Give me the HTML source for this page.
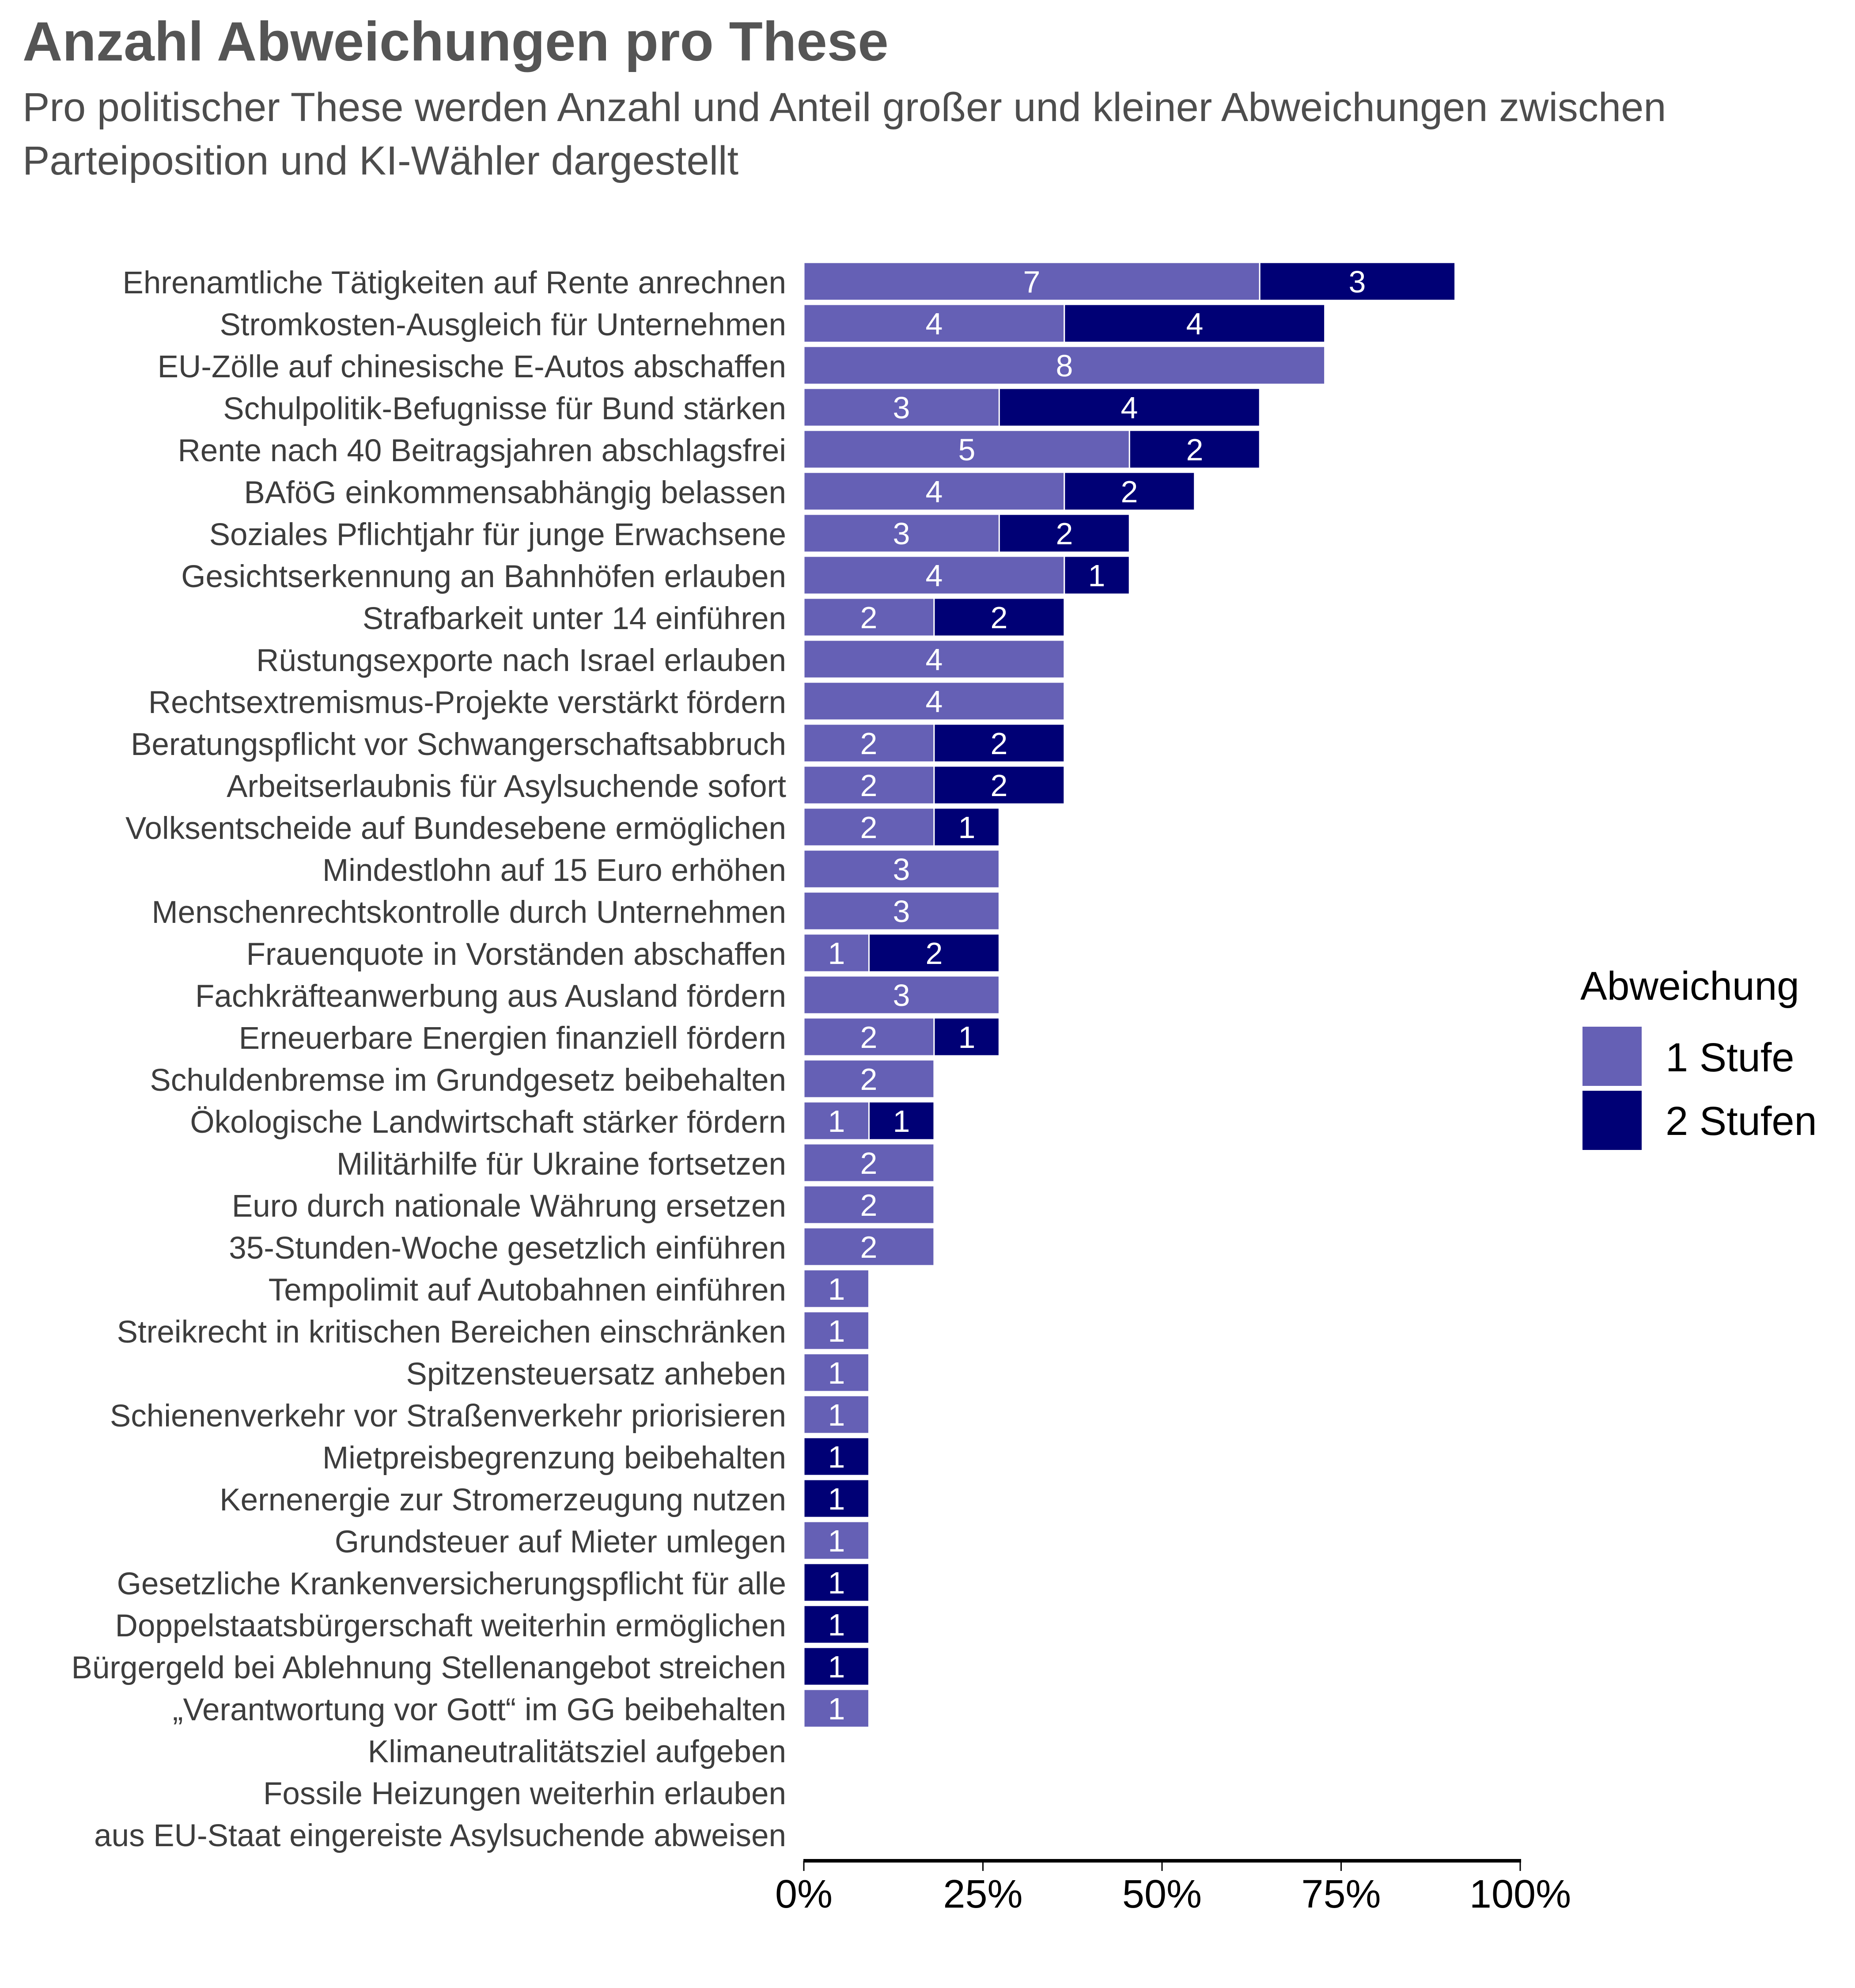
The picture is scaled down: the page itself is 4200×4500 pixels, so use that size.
<!DOCTYPE html>
<html><head><meta charset="utf-8"><style>
html,body{margin:0;padding:0;background:#fff}
svg{display:block}
.lab{font:71px "Liberation Sans",sans-serif;fill:#3d3d3d;text-anchor:end}
.n{font:70px "Liberation Sans",sans-serif;fill:#fff;text-anchor:middle}
.L{fill:#6560B5}.D{fill:#000075}
</style></head><body>
<svg width="4200" height="4500" viewBox="0 0 4200 4500" xmlns="http://www.w3.org/2000/svg">
<text x="51" y="137" style="font:bold 125px 'Liberation Sans',sans-serif;fill:#555">Anzahl Abweichungen pro These</text>
<text x="51" y="274" style="font:92px 'Liberation Sans',sans-serif;fill:#4d4d4d">Pro politischer These werden Anzahl und Anteil großer und kleiner Abweichungen zwischen</text>
<text x="51" y="395" style="font:92px 'Liberation Sans',sans-serif;fill:#4d4d4d">Parteiposition und KI-Wähler dargestellt</text>

<g>
<text class="lab" x="1780" y="664">Ehrenamtliche Tätigkeiten auf Rente anrechnen</text>
<text class="lab" x="1780" y="759">Stromkosten-Ausgleich für Unternehmen</text>
<text class="lab" x="1780" y="854">EU-Zölle auf chinesische E-Autos abschaffen</text>
<text class="lab" x="1780" y="949">Schulpolitik-Befugnisse für Bund stärken</text>
<text class="lab" x="1780" y="1044">Rente nach 40 Beitragsjahren abschlagsfrei</text>
<text class="lab" x="1780" y="1139">BAföG einkommensabhängig belassen</text>
<text class="lab" x="1780" y="1234">Soziales Pflichtjahr für junge Erwachsene</text>
<text class="lab" x="1780" y="1329">Gesichtserkennung an Bahnhöfen erlauben</text>
<text class="lab" x="1780" y="1424">Strafbarkeit unter 14 einführen</text>
<text class="lab" x="1780" y="1519">Rüstungsexporte nach Israel erlauben</text>
<text class="lab" x="1780" y="1614">Rechtsextremismus-Projekte verstärkt fördern</text>
<text class="lab" x="1780" y="1709">Beratungspflicht vor Schwangerschaftsabbruch</text>
<text class="lab" x="1780" y="1804">Arbeitserlaubnis für Asylsuchende sofort</text>
<text class="lab" x="1780" y="1899">Volksentscheide auf Bundesebene ermöglichen</text>
<text class="lab" x="1780" y="1994">Mindestlohn auf 15 Euro erhöhen</text>
<text class="lab" x="1780" y="2089">Menschenrechtskontrolle durch Unternehmen</text>
<text class="lab" x="1780" y="2184">Frauenquote in Vorständen abschaffen</text>
<text class="lab" x="1780" y="2279">Fachkräfteanwerbung aus Ausland fördern</text>
<text class="lab" x="1780" y="2374">Erneuerbare Energien finanziell fördern</text>
<text class="lab" x="1780" y="2469">Schuldenbremse im Grundgesetz beibehalten</text>
<text class="lab" x="1780" y="2564">Ökologische Landwirtschaft stärker fördern</text>
<text class="lab" x="1780" y="2659">Militärhilfe für Ukraine fortsetzen</text>
<text class="lab" x="1780" y="2754">Euro durch nationale Währung ersetzen</text>
<text class="lab" x="1780" y="2849">35-Stunden-Woche gesetzlich einführen</text>
<text class="lab" x="1780" y="2944">Tempolimit auf Autobahnen einführen</text>
<text class="lab" x="1780" y="3039">Streikrecht in kritischen Bereichen einschränken</text>
<text class="lab" x="1780" y="3134">Spitzensteuersatz anheben</text>
<text class="lab" x="1780" y="3229">Schienenverkehr vor Straßenverkehr priorisieren</text>
<text class="lab" x="1780" y="3324">Mietpreisbegrenzung beibehalten</text>
<text class="lab" x="1780" y="3419">Kernenergie zur Stromerzeugung nutzen</text>
<text class="lab" x="1780" y="3514">Grundsteuer auf Mieter umlegen</text>
<text class="lab" x="1780" y="3609">Gesetzliche Krankenversicherungspflicht für alle</text>
<text class="lab" x="1780" y="3704">Doppelstaatsbürgerschaft weiterhin ermöglichen</text>
<text class="lab" x="1780" y="3799">Bürgergeld bei Ablehnung Stellenangebot streichen</text>
<text class="lab" x="1780" y="3894">„Verantwortung vor Gott“ im GG beibehalten</text>
<text class="lab" x="1780" y="3989">Klimaneutralitätsziel aufgeben</text>
<text class="lab" x="1780" y="4084">Fossile Heizungen weiterhin erlauben</text>
<text class="lab" x="1780" y="4179">aus EU-Staat eingereiste Asylsuchende abweisen</text>
</g>

<g stroke="#fff" stroke-width="3">
<rect class="L" x="1820" y="594" width="1032.2" height="86"/><rect class="D" x="2852.2" y="594" width="442.4" height="86"/>
<rect class="L" x="1820" y="689" width="589.8" height="86"/><rect class="D" x="2409.8" y="689" width="589.8" height="86"/>
<rect class="L" x="1820" y="784" width="1179.6" height="86"/>
<rect class="L" x="1820" y="879" width="442.4" height="86"/><rect class="D" x="2262.4" y="879" width="589.8" height="86"/>
<rect class="L" x="1820" y="974" width="737.3" height="86"/><rect class="D" x="2557.3" y="974" width="294.9" height="86"/>
<rect class="L" x="1820" y="1069" width="589.8" height="86"/><rect class="D" x="2409.8" y="1069" width="294.9" height="86"/>
<rect class="L" x="1820" y="1164" width="442.4" height="86"/><rect class="D" x="2262.4" y="1164" width="294.9" height="86"/>
<rect class="L" x="1820" y="1259" width="589.8" height="86"/><rect class="D" x="2409.8" y="1259" width="147.45" height="86"/>
<rect class="L" x="1820" y="1354" width="294.9" height="86"/><rect class="D" x="2114.9" y="1354" width="294.9" height="86"/>
<rect class="L" x="1820" y="1449" width="589.8" height="86"/>
<rect class="L" x="1820" y="1544" width="589.8" height="86"/>
<rect class="L" x="1820" y="1639" width="294.9" height="86"/><rect class="D" x="2114.9" y="1639" width="294.9" height="86"/>
<rect class="L" x="1820" y="1734" width="294.9" height="86"/><rect class="D" x="2114.9" y="1734" width="294.9" height="86"/>
<rect class="L" x="1820" y="1829" width="294.9" height="86"/><rect class="D" x="2114.9" y="1829" width="147.45" height="86"/>
<rect class="L" x="1820" y="1924" width="442.4" height="86"/>
<rect class="L" x="1820" y="2019" width="442.4" height="86"/>
<rect class="L" x="1820" y="2114" width="147.45" height="86"/><rect class="D" x="1967.5" y="2114" width="294.9" height="86"/>
<rect class="L" x="1820" y="2209" width="442.4" height="86"/>
<rect class="L" x="1820" y="2304" width="294.9" height="86"/><rect class="D" x="2114.9" y="2304" width="147.45" height="86"/>
<rect class="L" x="1820" y="2399" width="294.9" height="86"/>
<rect class="L" x="1820" y="2494" width="147.45" height="86"/><rect class="D" x="1967.5" y="2494" width="147.45" height="86"/>
<rect class="L" x="1820" y="2589" width="294.9" height="86"/>
<rect class="L" x="1820" y="2684" width="294.9" height="86"/>
<rect class="L" x="1820" y="2779" width="294.9" height="86"/>
<rect class="L" x="1820" y="2874" width="147.45" height="86"/>
<rect class="L" x="1820" y="2969" width="147.45" height="86"/>
<rect class="L" x="1820" y="3064" width="147.45" height="86"/>
<rect class="L" x="1820" y="3159" width="147.45" height="86"/>
<rect class="D" x="1820" y="3254" width="147.45" height="86"/>
<rect class="D" x="1820" y="3349" width="147.45" height="86"/>
<rect class="L" x="1820" y="3444" width="147.45" height="86"/>
<rect class="D" x="1820" y="3539" width="147.45" height="86"/>
<rect class="D" x="1820" y="3634" width="147.45" height="86"/>
<rect class="D" x="1820" y="3729" width="147.45" height="86"/>
<rect class="L" x="1820" y="3824" width="147.45" height="86"/>
</g>

<g>
<text class="n" x="2336" y="662">7</text><text class="n" x="3073" y="662">3</text>
<text class="n" x="2115" y="757">4</text><text class="n" x="2705" y="757">4</text>
<text class="n" x="2410" y="852">8</text>
<text class="n" x="2041" y="947">3</text><text class="n" x="2557" y="947">4</text>
<text class="n" x="2189" y="1042">5</text><text class="n" x="2705" y="1042">2</text>
<text class="n" x="2115" y="1137">4</text><text class="n" x="2557" y="1137">2</text>
<text class="n" x="2041" y="1232">3</text><text class="n" x="2410" y="1232">2</text>
<text class="n" x="2115" y="1327">4</text><text class="n" x="2483" y="1327">1</text>
<text class="n" x="1967" y="1422">2</text><text class="n" x="2262" y="1422">2</text>
<text class="n" x="2115" y="1517">4</text>
<text class="n" x="2115" y="1612">4</text>
<text class="n" x="1967" y="1707">2</text><text class="n" x="2262" y="1707">2</text>
<text class="n" x="1967" y="1802">2</text><text class="n" x="2262" y="1802">2</text>
<text class="n" x="1967" y="1897">2</text><text class="n" x="2189" y="1897">1</text>
<text class="n" x="2041" y="1992">3</text>
<text class="n" x="2041" y="2087">3</text>
<text class="n" x="1894" y="2182">1</text><text class="n" x="2115" y="2182">2</text>
<text class="n" x="2041" y="2277">3</text>
<text class="n" x="1967" y="2372">2</text><text class="n" x="2189" y="2372">1</text>
<text class="n" x="1967" y="2467">2</text>
<text class="n" x="1894" y="2562">1</text><text class="n" x="2041" y="2562">1</text>
<text class="n" x="1967" y="2657">2</text>
<text class="n" x="1967" y="2752">2</text>
<text class="n" x="1967" y="2847">2</text>
<text class="n" x="1894" y="2942">1</text>
<text class="n" x="1894" y="3037">1</text>
<text class="n" x="1894" y="3132">1</text>
<text class="n" x="1894" y="3227">1</text>
<text class="n" x="1894" y="3322">1</text>
<text class="n" x="1894" y="3417">1</text>
<text class="n" x="1894" y="3512">1</text>
<text class="n" x="1894" y="3607">1</text>
<text class="n" x="1894" y="3702">1</text>
<text class="n" x="1894" y="3797">1</text>
<text class="n" x="1894" y="3892">1</text>
</g>

<rect x="1819" y="4208" width="1625" height="8" fill="#000"/>
<g stroke="#000" stroke-width="3">
<line x1="1820" y1="4212" x2="1820" y2="4235"/>
<line x1="2225.5" y1="4212" x2="2225.5" y2="4235"/>
<line x1="2631" y1="4212" x2="2631" y2="4235"/>
<line x1="3036.5" y1="4212" x2="3036.5" y2="4235"/>
<line x1="3442" y1="4212" x2="3442" y2="4235"/>
</g>
<g style="font:90px 'Liberation Sans',sans-serif;fill:#000;text-anchor:middle">
<text x="1820" y="4318">0%</text>
<text x="2225.5" y="4318">25%</text>
<text x="2631" y="4318">50%</text>
<text x="3036.5" y="4318">75%</text>
<text x="3442" y="4318">100%</text>
</g>

<text x="3578" y="2263" style="font:91px 'Liberation Sans',sans-serif;fill:#000">Abweichung</text>
<rect x="3583" y="2324" width="134" height="134" fill="#6560B5"/>
<rect x="3583" y="2469" width="134" height="134" fill="#000075"/>
<text x="3771" y="2425" style="font:92px 'Liberation Sans',sans-serif;fill:#000">1 Stufe</text>
<text x="3771" y="2569" style="font:92px 'Liberation Sans',sans-serif;fill:#000">2 Stufen</text>
</svg>
</body></html>
